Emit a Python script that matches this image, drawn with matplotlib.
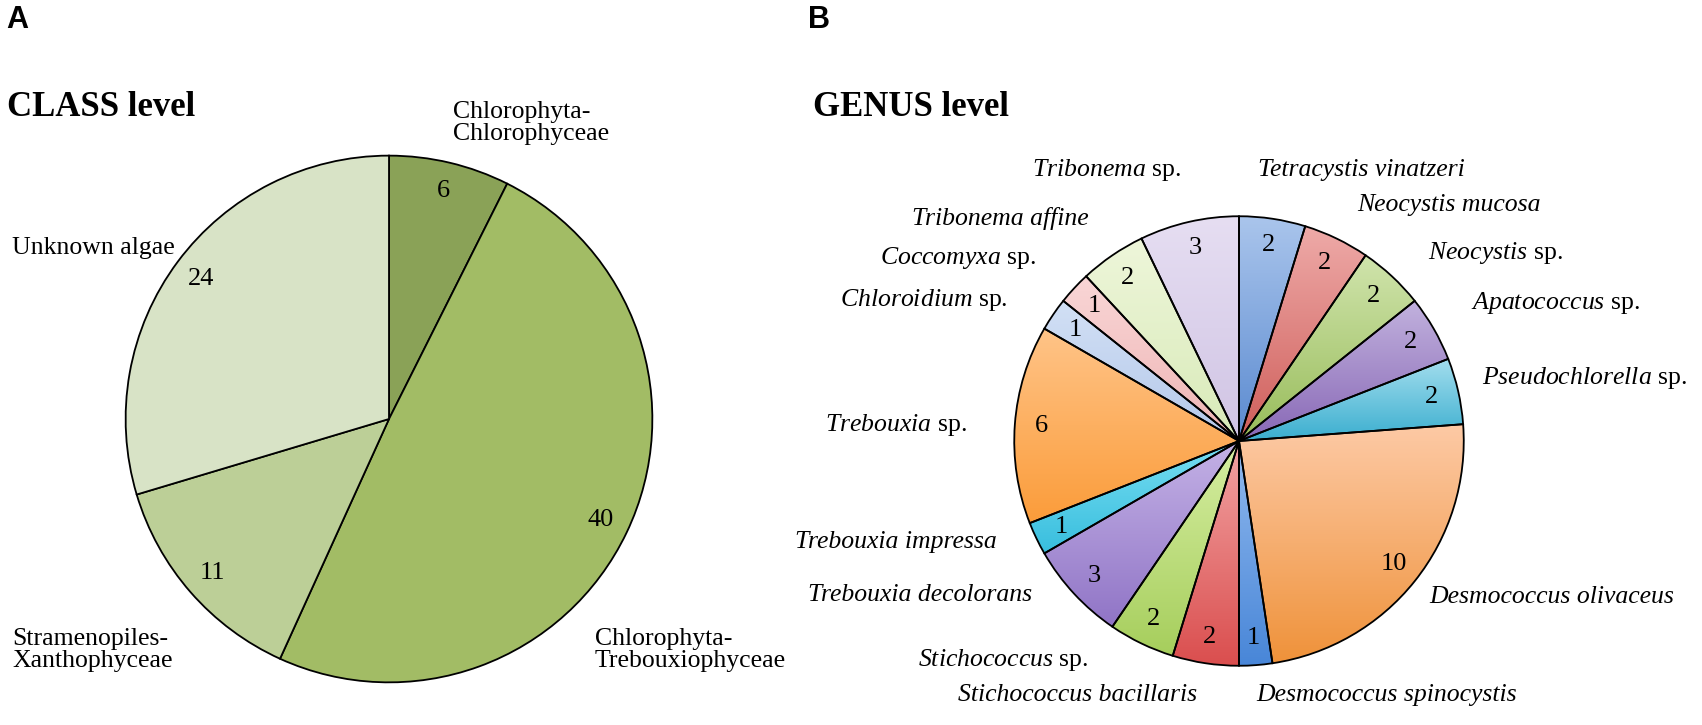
import numpy as np
import matplotlib
matplotlib.use("Agg")
import matplotlib.pyplot as plt
from matplotlib.colors import LinearSegmentedColormap

plt.rcParams['font.family'] = ['Liberation Serif', 'DejaVu Serif']
plt.rcParams['mathtext.fontset'] = 'custom'
plt.rcParams['mathtext.rm'] = 'Liberation Serif'
plt.rcParams['mathtext.it'] = 'Liberation Serif:italic'

W, H = 1702, 725

# class level, clockwise from 12 o'clock
class_names = ['Chlorophyta-\nChlorophyceae', 'Chlorophyta-\nTrebouxiophyceae',
               'Stramenopiles-\nXanthophyceae', 'Unknown algae']
class_counts = [6, 40, 11, 24]
class_colors = ['#8aa257', '#a2bc65', '#bccf97', '#d8e3c6']

# genus level, clockwise from 12 o'clock
genus_names = ['Tetracystis vinatzeri', 'Neocystis mucosa', '$\\it{Neocystis}$ sp.',
               '$\\it{Apatococcus}$ sp.', '$\\it{Pseudochlorella}$ sp.',
               'Desmococcus olivaceus', 'Desmococcus spinocystis',
               'Stichococcus bacillaris', '$\\it{Stichococcus}$ sp.',
               'Trebouxia decolorans', 'Trebouxia impressa', '$\\it{Trebouxia}$ sp.',
               '$\\it{Chloroidium}$ sp.', '$\\it{Coccomyxa}$ sp.',
               'Tribonema affine', '$\\it{Tribonema}$ sp.']
genus_counts = [2, 2, 2, 2, 2, 10, 1, 2, 2, 3, 1, 6, 1, 1, 2, 3]
# vertical gradient per slice: top colour, bottom colour
genus_top = ['#aac5ec', '#eeaaa8', '#d0e4ac', '#c2b2de', '#a4deee',
             '#fdcaa6', '#92baee', '#f2a4a4', '#d6eea2', '#c4b2e6',
             '#78def2', '#ffc488', '#d2e0f5', '#f9d6d6', '#eef6da', '#e6def2']
genus_bottom = ['#5a8ad0', '#cf5e5a', '#98bc5a', '#8868b6', '#3aaecf',
                '#ef923a', '#4886d8', '#da4e4e', '#a6ce5c', '#9074c6',
                '#38bede', '#fb9c3a', '#b4c8ea', '#eeb4b4', '#d8eab8', '#d0c4e4']

# label anchors in px (left edge, vertical centre)
class_label_pos = [(453, 123), (595, 650), (12, 650), (12, 248)]
genus_label_pos = [(1258, 170), (1357, 205), (1428, 253), (1471, 303), (1482, 378),
                   (1429, 597), (1256, 695), (958, 695), (918, 660),
                   (808, 595), (795, 542), (825, 425),
                   (840, 300), (880, 258), (912, 218), (1032, 170)]


def px_axes(cx, cy, r):
    return fig.add_axes([(cx - r) / W, 1 - (cy + r) / H, 2 * r / W, 2 * r / H])


def px_text(x, y, s, **kw):
    fig.text(x / W, 1 - y / H, s, va='center', **kw)


fig = plt.figure(figsize=(W / 100, H / 100), dpi=100)

# A: class level
ax1 = px_axes(389, 419, 266)
ax1.pie(class_counts, colors=class_colors, startangle=90, counterclock=False,
        labels=[str(v) for v in class_counts], labeldistance=0.89, radius=1,
        wedgeprops=dict(edgecolor='black', linewidth=1.3),
        textprops=dict(fontsize=19, ha='center', va='center'))
ax1.set_xlim(-1.01, 1.01)
ax1.set_ylim(-1.01, 1.01)
ax1.set_aspect('auto')
ax1.axis('off')

# B: genus level
ax2 = px_axes(1239, 441, 227)
wedges, texts = ax2.pie(genus_counts, colors=genus_bottom, startangle=90, counterclock=False,
                        labels=[str(v) for v in genus_counts], labeldistance=0.88, radius=1,
                        wedgeprops=dict(edgecolor='black', linewidth=1.3),
                        textprops=dict(fontsize=19, ha='center', va='center'))
grad = np.linspace(0, 1, 256)[:, None]
for w, c1, c2 in zip(wedges, genus_top, genus_bottom):
    bb = w.get_path().get_extents()
    cmap = LinearSegmentedColormap.from_list('g', [c1, c2])
    im = ax2.imshow(grad, cmap=cmap, extent=(bb.x0, bb.x1, bb.y0, bb.y1),
                    origin='upper', aspect='auto', zorder=1.5, interpolation='bilinear')
    im.set_clip_path(w)
    w.set_facecolor('none')
    w.set_zorder(2)
ax2.set_xlim(-1.01, 1.01)
ax2.set_ylim(-1.01, 1.01)
ax2.set_aspect('auto')
ax2.axis('off')

px_text(6, 20, 'A', family='Liberation Sans', fontsize=22, fontweight='bold')
px_text(808, 20, 'B', family='Liberation Sans', fontsize=22, fontweight='bold')
px_text(7, 107, 'CLASS level', fontsize=25, fontweight='bold')
px_text(813, 107, 'GENUS level', fontsize=25, fontweight='bold')

for (x, y), name in zip(class_label_pos, class_names):
    px_text(x, y, name, fontsize=18.5, linespacing=1.0)

for (x, y), name in zip(genus_label_pos, genus_names):
    style = 'normal' if '$' in name else 'italic'
    px_text(x, y, name, fontsize=18.5, fontstyle=style)

fig.savefig('out.png', dpi=100)
